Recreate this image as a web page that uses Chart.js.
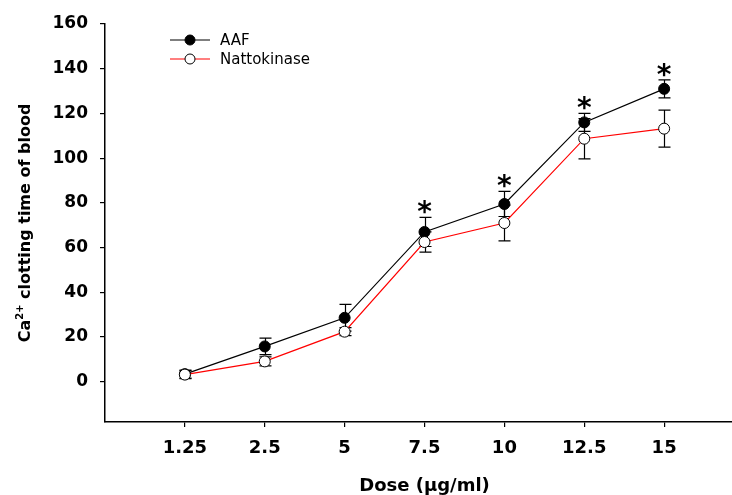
<!DOCTYPE html>
<html>
<head>
<meta charset="utf-8">
<script src="https://cdn.jsdelivr.net/npm/chart.js@4.4.1/dist/chart.umd.min.js"></script>
<style>
  html, body { margin: 0; padding: 0; background: #fff; overflow: hidden; }
  #wrap { width: 760px; height: 495px; }
</style>
</head>
<body>
<div id="wrap"><canvas id="c" width="760" height="495"></canvas></div>
<script>
// Dose levels (µg/ml) and mean Ca2+ clotting times with SEM
const doses = ['1.25', '2.5', '5', '7.5', '10', '12.5', '15'];
const aafMean = [3.4, 15.8, 28.6, 67.0, 79.5, 116.0, 131.0];
const aafErr = [1.8, 3.7, 6.0, 6.5, 5.6, 4.0, 4.0];
const nattoMean = [3.2, 9.1, 22.4, 62.5, 71.0, 108.7, 113.2];
const nattoErr = [1.8, 2.0, 1.8, 4.5, 8.0, 9.0, 8.3];
// doses where AAF differs significantly from nattokinase
const significant = [false, false, false, true, true, true, true];
const yTicks = [0, 20, 40, 60, 80, 100, 120, 140, 160];

const tickFont = { family: 'DejaVu Sans', size: 17, weight: 'bold' };

const toPoints = (vals) => vals.map((v, i) => ({ x: i, y: v }));

const errorBars = {
  id: 'errorBars',
  beforeDatasetsDraw(chart) {
    const { ctx, scales: { x, y } } = chart;
    const sets = [[aafMean, aafErr], [nattoMean, nattoErr]];
    ctx.save();
    ctx.strokeStyle = '#000';
    ctx.lineWidth = 1.2;
    sets.forEach(([m, e]) => {
      m.forEach((v, i) => {
        const px = Math.round(x.getPixelForValue(i)) + 0.5;
        const top = y.getPixelForValue(v + e[i]);
        const bot = y.getPixelForValue(v - e[i]);
        ctx.beginPath();
        ctx.moveTo(px, top); ctx.lineTo(px, bot);
        ctx.moveTo(px - 6, top); ctx.lineTo(px + 6, top);
        ctx.moveTo(px - 6, bot); ctx.lineTo(px + 6, bot);
        ctx.stroke();
      });
    });
    ctx.restore();
  },
  afterDatasetsDraw(chart) {
    const { ctx, scales: { x, y } } = chart;
    ctx.save();
    ctx.fillStyle = '#000';
    ctx.font = 'bold 28px "DejaVu Sans"';
    ctx.textAlign = 'center';
    ctx.textBaseline = 'alphabetic';
    significant.forEach((s, i) => {
      if (!s) return;
      const px = x.getPixelForValue(i);
      const top = y.getPixelForValue(aafMean[i] + aafErr[i]);
      ctx.fillText('*', px, top + 4);
    });
    ctx.restore();
  }
};

const legendAndTitle = {
  id: 'legendAndTitle',
  afterDraw(chart) {
    const ctx = chart.ctx;
    ctx.save();
    // legend
    const rows = [
      { y: 40, line: '#000', fill: '#000', text: 'AAF' },
      { y: 59, line: '#ff0000', fill: '#fff', text: 'Nattokinase' }
    ];
    rows.forEach(r => {
      ctx.strokeStyle = r.line;
      ctx.lineWidth = 1.2;
      ctx.beginPath();
      ctx.moveTo(170, r.y); ctx.lineTo(210, r.y);
      ctx.stroke();
      ctx.beginPath();
      ctx.arc(190, r.y, 5, 0, Math.PI * 2);
      ctx.fillStyle = r.fill;
      ctx.fill();
      ctx.strokeStyle = '#000';
      ctx.lineWidth = 1;
      ctx.stroke();
      ctx.fillStyle = '#000';
      ctx.font = '15px "DejaVu Sans"';
      ctx.textAlign = 'left';
      ctx.textBaseline = 'middle';
      ctx.fillText(r.text, 220, r.y + 1);
    });

    // y-axis title with superscript charge
    const big = 'bold 16px "DejaVu Sans"';
    const small = 'bold 10px "DejaVu Sans"';
    const parts = [['Ca', big, 0], ['2+', small, -7], [' clotting time of blood', big, 0]];
    let total = 0;
    parts.forEach(p => { ctx.font = p[1]; total += ctx.measureText(p[0]).width; });
    ctx.translate(30, 223);
    ctx.rotate(-Math.PI / 2);
    ctx.textAlign = 'left';
    ctx.textBaseline = 'alphabetic';
    let cx = -total / 2;
    parts.forEach(p => {
      ctx.font = p[1];
      ctx.fillText(p[0], cx, p[2]);
      cx += ctx.measureText(p[0]).width;
    });
    ctx.restore();
  }
};

new Chart(document.getElementById('c'), {
  type: 'line',
  data: {
    datasets: [
      {
        label: 'Nattokinase',
        data: toPoints(nattoMean),
        borderColor: '#ff0000',
        borderWidth: 1.2,
        pointRadius: 5.5,
        pointBackgroundColor: '#fff',
        pointBorderColor: '#000',
        pointBorderWidth: 1,
        tension: 0,
        order: 0
      },
      {
        label: 'AAF',
        data: toPoints(aafMean),
        borderColor: '#000',
        borderWidth: 1.2,
        pointRadius: 5.5,
        pointBackgroundColor: '#000',
        pointBorderColor: '#000',
        pointBorderWidth: 1,
        tension: 0,
        order: 1
      }
    ]
  },
  options: {
    responsive: false,
    animation: false,
    events: [],
    layout: { padding: { top: 24, right: 16, left: 0, bottom: 0 } },
    plugins: { legend: { display: false }, tooltip: { enabled: false } },
    scales: {
      x: {
        type: 'linear',
        min: -1,
        max: 7,
        afterFit(s) { s.height = 73; },
        afterBuildTicks(s) { s.ticks = doses.map((d, i) => ({ value: i })); },
        ticks: {
          color: '#000',
          font: { family: 'DejaVu Sans', size: 18, weight: 'bold' },
          padding: 11,
          maxRotation: 0,
          callback: (v) => doses[v]
        },
        grid: { drawOnChartArea: false, drawTicks: true, tickLength: 5, color: '#000', lineWidth: 1.2 },
        border: { display: true, color: '#000', width: 1.5 },
        title: {
          display: true,
          text: 'Dose (μg/ml)',
          color: '#000',
          font: { family: 'DejaVu Sans', size: 18, weight: 'bold' },
          padding: { top: 0, bottom: -2 }
        }
      },
      y: {
        min: -18,
        max: 160,
        afterFit(s) { s.width = 105; },
        afterBuildTicks(s) { s.ticks = yTicks.map(v => ({ value: v })); },
        ticks: { color: '#000', font: tickFont, padding: 12 },
        grid: { drawOnChartArea: false, drawTicks: true, tickLength: 5, color: '#000', lineWidth: 1.2 },
        border: { display: true, color: '#000', width: 1.5 }
      }
    }
  },
  plugins: [errorBars, legendAndTitle]
});
</script>
</body>
</html>
